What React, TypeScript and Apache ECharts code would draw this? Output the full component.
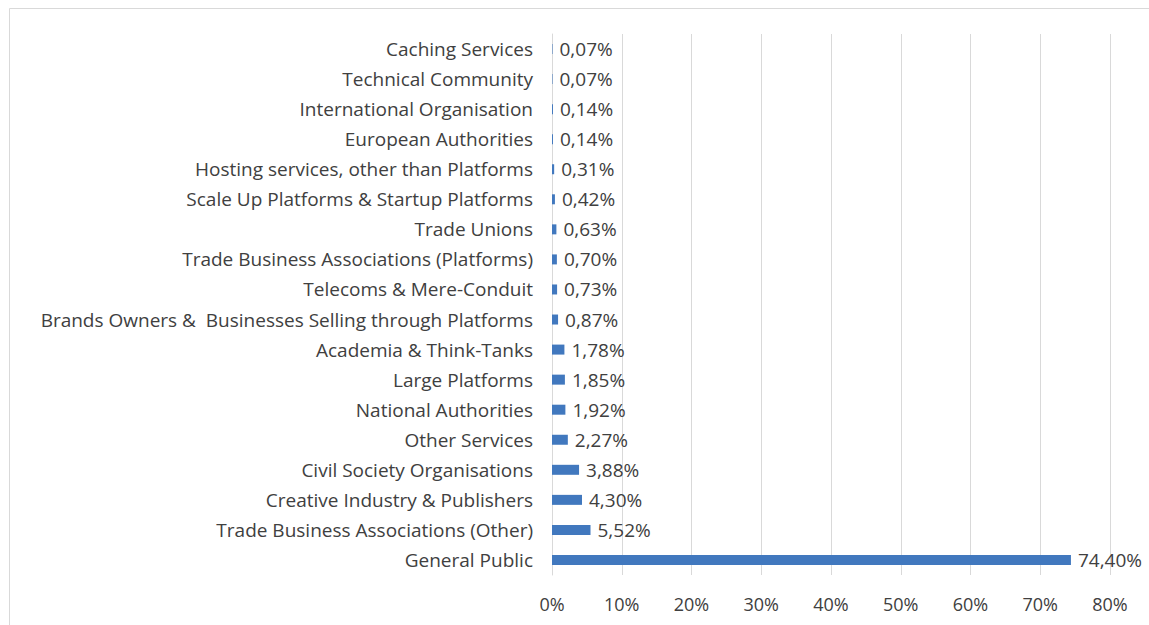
import React, { useEffect, useRef } from "react";
import * as echarts from "echarts";

const categories = [
  "General Public",
  "Trade Business Associations (Other)",
  "Creative Industry & Publishers",
  "Civil Society Organisations",
  "Other Services",
  "National Authorities",
  "Large Platforms",
  "Academia & Think-Tanks",
  "Brands Owners &  Businesses Selling through Platforms",
  "Telecoms & Mere-Conduit",
  "Trade Business Associations (Platforms)",
  "Trade Unions",
  "Scale Up Platforms & Startup Platforms",
  "Hosting services, other than Platforms",
  "European Authorities",
  "International Organisation",
  "Technical Community",
  "Caching Services",
];
const values = [74.4, 5.52, 4.3, 3.88, 2.27, 1.92, 1.85, 1.78, 0.87, 0.73, 0.7, 0.63, 0.42, 0.31, 0.14, 0.14, 0.07, 0.07];
const xTicks = [0, 10, 20, 30, 40, 50, 60, 70, 80];

const FONT = "'Open Sans', 'Noto Sans', sans-serif";

export default function App() {
  const ref = useRef<HTMLDivElement>(null);
  useEffect(() => {
    if (!ref.current) return;
    const chart = echarts.init(ref.current, null, { renderer: "svg" });
    chart.setOption({
      animation: false,
      backgroundColor: "#ffffff",
      graphic: [
        {
          type: "rect",
          z: -10,
          shape: { x: 9.5, y: 8.5, width: 1300, height: 800 },
          style: { fill: "none", stroke: "#d9d9d9", lineWidth: 1 },
        },
      ],
      grid: { left: 552, right: 39, top: 34, bottom: 50, containLabel: false },
      xAxis: {
        type: "value",
        min: xTicks[0],
        max: xTicks[xTicks.length - 1],
        interval: 10,
        axisLine: { show: false },
        axisTick: { show: false },
        splitLine: { show: true, lineStyle: { color: "#d9d9d9", width: 1 } },
        axisLabel: {
          formatter: (v: number) => `${v}%`,
          color: "#404040",
          fontFamily: FONT,
          fontSize: 18,
          margin: 20,
        },
      },
      yAxis: {
        type: "category",
        data: categories,
        axisLine: { show: true, lineStyle: { color: "#d9d9d9" } },
        axisTick: { show: false },
        axisLabel: {
          color: "#404040",
          fontFamily: FONT,
          fontSize: 19,
          margin: 19,
        },
      },
      series: [
        {
          type: "bar",
          data: values,
          barWidth: 10,
          itemStyle: { color: "#4178be" },
          label: {
            show: true,
            position: "right",
            distance: 7,
            color: "#404040",
            fontFamily: FONT,
            fontSize: 19,
            formatter: (p: any) => p.value.toFixed(2).replace(".", ",") + "%",
          },
        },
      ],
    });
    return () => chart.dispose();
  }, []);
  return (
    <div
      ref={ref}
      style={{ position: "fixed", left: 0, top: 0, width: 1149, height: 625 }}
    />
  );
}
